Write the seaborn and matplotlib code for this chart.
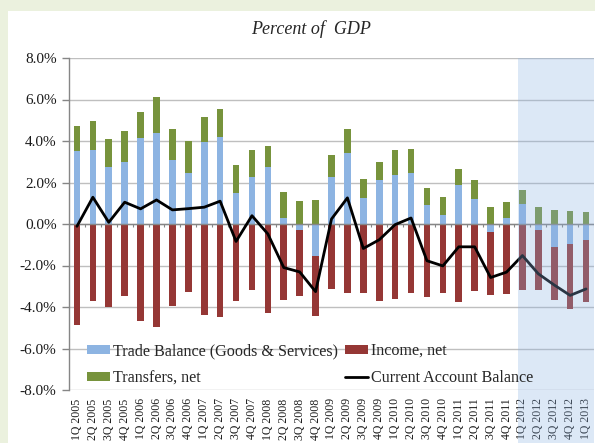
import numpy as np
import pandas as pd
import matplotlib
matplotlib.use("Agg")
import matplotlib.pyplot as plt
import matplotlib.transforms as mtransforms
from matplotlib.patches import Patch, Rectangle
from matplotlib.lines import Line2D
from matplotlib.ticker import FuncFormatter
import seaborn as sns

quarters = ["1Q 2005", "2Q 2005", "3Q 2005", "4Q 2005",
            "1Q 2006", "2Q 2006", "3Q 2006", "4Q 2006",
            "1Q 2007", "2Q 2007", "3Q 2007", "4Q 2007",
            "1Q 2008", "2Q 2008", "3Q 2008", "4Q 2008",
            "1Q 2009", "2Q 2009", "3Q 2009", "4Q 2009",
            "1Q 2010", "2Q 2010", "3Q 2010", "4Q 2010",
            "1Q 2011", "2Q 2011", "3Q 2011", "4Q 2011",
            "1Q 2012", "2Q 2012", "3Q 2012", "4Q 2012",
            "1Q 2013"]

trade_balance = [3.52, 3.55, 2.77, 2.97, 4.15, 4.37, 3.10, 2.45,
                 3.95, 4.19, 1.47, 2.26, 2.73, 0.29, -0.27, -1.56,
                 2.27, 3.44, 1.26, 2.13, 2.35, 2.44, 0.92, 0.45,
                 1.87, 1.19, -0.37, 0.31, 0.98, -0.27, -1.13, -0.98,
                 -0.76]
income_net = [-4.89, -3.71, -4.02, -3.45, -4.68, -4.98, -3.94, -3.27,
              -4.39, -4.48, -3.69, -3.19, -4.29, -3.66, -3.18, -2.87,
              -3.15, -3.34, -3.31, -3.73, -3.63, -3.31, -3.52, -3.34,
              -3.76, -3.23, -3.06, -3.37, -3.18, -2.90, -2.53, -3.11,
              -2.98]
transfers_net = [1.21, 1.39, 1.34, 1.50, 1.24, 1.76, 1.48, 1.53,
                 1.20, 1.35, 1.37, 1.29, 1.02, 1.24, 1.13, 1.18,
                 1.06, 1.16, 0.89, 0.87, 1.21, 1.16, 0.82, 0.86,
                 0.76, 0.92, 0.82, 0.73, 0.68, 0.81, 0.68, 0.65,
                 0.58]
current_account = [-0.11, 1.29, 0.08, 1.05, 0.73, 1.16, 0.68, 0.74,
                   0.81, 1.10, -0.84, 0.40, -0.48, -2.10, -2.31, -3.26,
                   0.24, 1.26, -1.18, -0.76, -0.03, 0.29, -1.77, -2.02,
                   -1.10, -1.10, -2.58, -2.32, -1.52, -2.40, -2.94, -3.44,
                   -3.13]
y_ticks = [-8, -6, -4, -2, 0, 2, 4, 6, 8]
shade_start = "1Q 2012"

C_BLUE = "#8DB4E2"
C_RED = "#953735"
C_GREEN = "#77933C"
C_GRID = "#BFBFBF"
C_AXIS = "#868686"

sns.set_theme(style="white")
plt.rcParams["font.family"] = ["Liberation Serif", "DejaVu Serif"]

df = pd.DataFrame({
    "quarter": quarters,
    "trade": trade_balance,
    "income": income_net,
    "transfers": transfers_net,
    "ca": current_account,
})
df["pos_top"] = df["trade"].clip(lower=0) + df["transfers"]
df["neg_bottom"] = df["trade"].clip(upper=0) + df["income"]
df["pos"] = np.arange(len(df))

fig = plt.figure(figsize=(5.95, 4.43), dpi=100)
fig.patch.set_facecolor("#EBF1DE")
fig.add_artist(Rectangle((8 / 595, 0), 1, 1 - 11 / 443, transform=fig.transFigure,
                         facecolor="white", edgecolor="none", zorder=0))
ax = fig.add_axes([69 / 595, 53 / 443, 525 / 595, 332 / 443])
ax.set_facecolor("none")

bw = 0.42
sns.barplot(data=df, x="quarter", y="pos_top", color=C_GREEN, saturation=1,
            width=bw, linewidth=0, ax=ax, zorder=2)
sns.barplot(data=df, x="quarter", y="neg_bottom", color=C_RED, saturation=1,
            width=bw, linewidth=0, ax=ax, zorder=2)
sns.barplot(data=df, x="quarter", y="trade", color=C_BLUE, saturation=1,
            width=bw, linewidth=0, ax=ax, zorder=2)
sns.lineplot(data=df, x="pos", y="ca", color="black", linewidth=2.0,
             sort=False, ax=ax, zorder=3)

n = len(quarters)
ax.set_xlim(-0.5, n - 0.5)
ax.set_ylim(-8, 8)
ax.set_yticks(y_ticks)
ax.yaxis.set_major_formatter(FuncFormatter(lambda v, p: f"{v:.1f}%"))
ax.grid(axis="y", color=C_GRID, linewidth=1.0, zorder=0)
ax.set_axisbelow(True)
ax.set_xlabel("")
ax.set_ylabel("")

# zero axis with small category ticks
ax.axhline(0, color=C_AXIS, linewidth=1.0, zorder=2.5)
ax.vlines(np.arange(n + 1) - 0.5, -0.15, 0, color=C_AXIS, linewidth=0.8, zorder=2.5)

for s in ["top", "right", "bottom"]:
    ax.spines[s].set_visible(False)
ax.spines["left"].set_color(C_AXIS)
ax.spines["left"].set_linewidth(1.0)

ax.tick_params(axis="y", length=5, color=C_AXIS, width=1, labelsize=11,
               labelcolor="#1a1a1a", pad=4, left=True)
ax.set_xticks(range(n))
ax.set_xticklabels(quarters, rotation=90, fontsize=8.5, color="#1a1a1a")
ax.tick_params(axis="x", length=0, pad=6)

# shaded forecast region
x0 = quarters.index(shade_start) - 0.3
trans = mtransforms.blended_transform_factory(ax.transData, ax.transAxes)
ax.add_patch(Rectangle((x0, -0.3), (n - 0.5) - x0, 1.3, transform=trans,
                       facecolor="#8DB3E2", alpha=0.3, edgecolor="none",
                       clip_on=False, zorder=4))

fig.text(0.522, 1 - 29 / 443, "Percent of  GDP", ha="center", va="center",
         fontsize=13, style="italic")

handles = [Patch(facecolor=C_BLUE, edgecolor="none"),
           Patch(facecolor=C_GREEN, edgecolor="none"),
           Patch(facecolor=C_RED, edgecolor="none"),
           Line2D([], [], color="black", linewidth=2.0)]
labels = ["Trade Balance (Goods & Services)", "Transfers, net",
          "Income, net", "Current Account Balance"]
leg = ax.legend(handles, labels, ncol=2, loc="upper left",
                bbox_to_anchor=(87 / 595, 1 - 343 / 443), bbox_transform=fig.transFigure,
                frameon=False, fontsize=11.6, handlelength=1.45, handleheight=0.5,
                handletextpad=0.15, columnspacing=0.45, labelspacing=0.7,
                borderaxespad=0, borderpad=0)
leg.set_zorder(6)

fig.savefig("out.png", dpi=100)
